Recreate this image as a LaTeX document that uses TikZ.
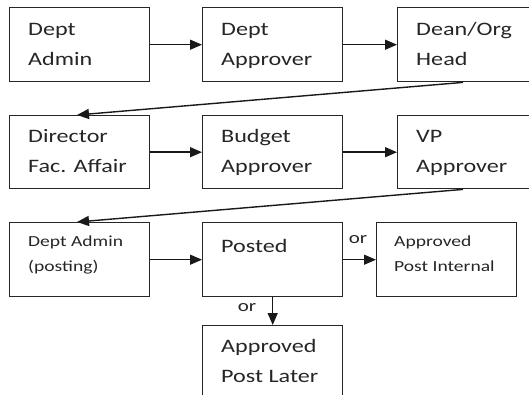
\documentclass[tikz,border=0pt]{standalone}
\usepackage{fontspec}
\setmainfont[FakeStretch=1.27]{Carlito}
\usetikzlibrary{arrows.meta,calc}
\begin{document}
\begin{tikzpicture}[x=1pt,y=-1pt,
  box/.style={draw=black!85, line width=1.4pt, rectangle},
  bigtxt/.style={anchor=base west, align=left, inner sep=0pt, text=black!85,
     font=\fontsize{19}{30}\selectfont},
  smalltxt/.style={anchor=base west, align=left, inner sep=0pt, text=black!85,
     font=\fontsize{15.4}{25}\selectfont},
  ortxt/.style={inner sep=0pt, text=black!85, font=\fontsize{16.5}{20}\selectfont},
  arr/.style={draw=black!90, line width=1.4pt, -{Triangle[length=12pt,width=10pt]}}]
\useasboundingbox (0,0) rectangle (529,395);
\clip (0,0) rectangle (529,395);
% boxes
\node[box, minimum width=140pt, minimum height=74pt, anchor=north west] (b1) at (9,7) {};
\node[box, minimum width=140pt, minimum height=74pt, anchor=north west] (b2) at (202,7) {};
\node[box, minimum width=150pt, minimum height=74pt, anchor=north west] (b3) at (397,7) {};
\node[box, minimum width=140pt, minimum height=73pt, anchor=north west] (b4) at (9,115) {};
\node[box, minimum width=140pt, minimum height=73pt, anchor=north west] (b5) at (202,115) {};
\node[box, minimum width=150pt, minimum height=73pt, anchor=north west] (b6) at (397,115) {};
\node[box, minimum width=140pt, minimum height=74pt, anchor=north west] (b7) at (9,222) {};
\node[box, minimum width=140pt, minimum height=74pt, anchor=north west] (b8) at (202,222) {};
\node[box, minimum width=140pt, minimum height=74pt, anchor=north west] (b9) at (376,222) {};
\node[box, minimum width=140pt, minimum height=90pt, anchor=north west] (b10) at (202,325) {};
% texts (anchored at the baseline of their last line)
\node[bigtxt] (t1) at ($(b1.north west)+(19,59)$) {Dept\\Admin};
\node[bigtxt] (t2) at ($(b2.north west)+(19,59)$) {Dept\\Approver};
\node[bigtxt] (t3) at ($(b3.north west)+(19,59)$) {Dean/Org\\Head};
\node[bigtxt] (t4) at ($(b4.north west)+(19,58)$) {Director\\Fac. Affair};
\node[bigtxt] (t5) at ($(b5.north west)+(19,58)$) {Budget\\Approver};
\node[bigtxt] (t6) at ($(b6.north west)+(19,58)$) {VP\\Approver};
\node[smalltxt] (t7) at ($(b7.north west)+(19,49)$) {Dept Admin\\(posting)};
\node[bigtxt] (t8) at ($(b8.north west)+(19,30)$) {Posted};
\node[smalltxt] (t9) at ($(b9.north west)+(18,49)$) {Approved\\Post Internal};
\node[bigtxt] (t10) at ($(b10.north west)+(19,57)$) {Approved\\Post Later};
% connectors
\draw[arr] (b1.east) -- (b2.west);
\draw[arr] (b2.east) -- (b3.west);
\draw[arr] ([xshift=66pt]b3.south west) -- ([xshift=68pt]b4.north west);
\draw[arr] (b4.east) -- (b5.west);
\draw[arr] (b5.east) -- (b6.west);
\draw[arr] ([xshift=66pt]b6.south west) -- ([xshift=68pt]b7.north west);
\draw[arr] (b7.east) -- (b8.west);
\draw[arr] (b8.east) -- (b9.west);
\draw[arr] (b8.south) -- (b10.north);
\node[ortxt] (or1) at (358,240) {or};
\node[ortxt] (or2) at (247,308) {or};
\end{tikzpicture}
\end{document}
